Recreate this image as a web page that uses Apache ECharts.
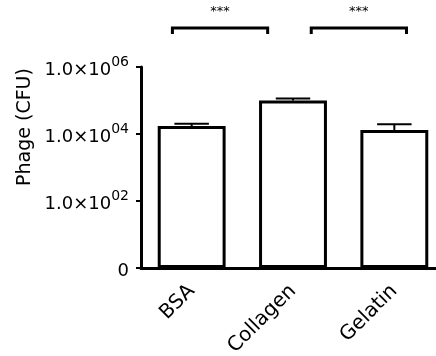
<!DOCTYPE html>
<html>
<head>
<meta charset="utf-8">
<script src="https://cdn.jsdelivr.net/npm/echarts@6/dist/echarts.min.js"></script>
<style>
  html, body { margin: 0; padding: 0; background: #fff; overflow: hidden; }
  #wrap { width: 436px; height: 356px; overflow: hidden; position: relative; }
  #chart { position: absolute; left: 0; top: 0; width: 445px; height: 356px; }
</style>
</head>
<body>
<div id="wrap"><div id="chart"></div></div>
<script>
const categories = [ 'BSA', 'Collagen', 'Gelatin' ];
const phageMean = [ 17300, 100000, 13200 ];
const phageUpper = [ 20300, 115000, 19500 ];
const yTicks = [ 1, 100, 10000, 1000000 ];
const comparisons = [ [ 0, 1 ], [ 1, 2 ] ];
const comparisonLabels = [ '***', '***' ];

const FONT = 'DejaVu Sans';

// bracket placement, in band widths relative to the midpoint of the compared bars
const bracketShift = [ -0.22, 0.15 ];
const bracketHalf = 0.47;

// the plot runs past the right edge of the 436px window, as in the source figure
const chart = echarts.init( document.getElementById( 'chart' ), null, { renderer: 'canvas' } );

function yLabel( v ) {
	if ( v <= 1 ) return '{b|0}';
	const e = Math.round( Math.log10( v ) );
	return '{b|1.0×10}{s|' + String( e ).padStart( 2, '0' ) + '}';
}

chart.setOption( {
	animation: false,
	backgroundColor: '#fff',
	grid: { left: 141, top: 67, right: 0, bottom: 88, containLabel: false, outerBoundsMode: 'none' },
	xAxis: {
		type: 'category',
		data: categories,
		axisLine: { lineStyle: { color: '#000', width: 3 } },
		axisTick: { alignWithLabel: true, length: 6, lineStyle: { color: '#000', width: 3 } },
		axisLabel: {
			rotate: 45,
			margin: 20,
			color: '#000',
			fontFamily: FONT,
			fontSize: 20
		}
	},
	yAxis: {
		type: 'log',
		logBase: 100,
		min: yTicks[ 0 ],
		max: yTicks[ yTicks.length - 1 ],
		interval: 1,
		splitLine: { show: false },
		axisLine: { show: true, lineStyle: { color: '#000', width: 3 } },
		axisTick: { show: true, length: 5, lineStyle: { color: '#000', width: 2 } },
		axisLabel: {
			margin: 12,
			color: '#000',
			formatter: yLabel,
			rich: {
				b: { fontFamily: FONT, fontSize: 18, color: '#000', lineHeight: 24, verticalAlign: 'bottom' },
				s: { fontFamily: FONT, fontSize: 14, color: '#000', lineHeight: 24, verticalAlign: 'top' }
			}
		}
	},
	graphic: [ {
		type: 'text',
		x: 25,
		y: 127,
		rotation: Math.PI / 2,
		style: {
			text: 'Phage (CFU)',
			fontFamily: FONT,
			fontSize: 19,
			fill: '#000',
			align: 'center',
			verticalAlign: 'middle'
		}
	} ],
	series: [
		{
			type: 'bar',
			data: phageMean,
			barWidth: '67%',
			itemStyle: { color: '#fff', borderColor: '#000', borderWidth: 3 },
			z: 2
		},
		{
			type: 'custom',
			z: 3,
			data: categories.map( ( c, i ) => [ i, phageMean[ i ], phageUpper[ i ] ] ),
			renderItem: ( params, api ) => {
				const base = api.coord( [ api.value( 0 ), api.value( 1 ) ] );
				const top = api.coord( [ api.value( 0 ), api.value( 2 ) ] );
				const half = api.size( [ 1, 0 ] )[ 0 ] * 0.17;
				const st = { stroke: '#000', lineWidth: 2 };
				return {
					type: 'group',
					children: [
						{ type: 'line', shape: { x1: base[ 0 ], y1: base[ 1 ], x2: top[ 0 ], y2: top[ 1 ] }, style: st },
						{ type: 'line', shape: { x1: top[ 0 ] - half, y1: top[ 1 ], x2: top[ 0 ] + half, y2: top[ 1 ] }, style: st }
					]
				};
			}
		},
		{
			type: 'custom',
			z: 3,
			clip: false,
			data: comparisons.map( ( pair, i ) => [ pair[ 0 ], yTicks[ yTicks.length - 1 ], pair[ 1 ], i ] ),
			renderItem: ( params, api ) => {
				const idx = api.value( 3 );
				const band = api.size( [ 1, 0 ] )[ 0 ];
				const a = api.coord( [ api.value( 0 ), api.value( 1 ) ] );
				const b = api.coord( [ api.value( 2 ), api.value( 1 ) ] );
				const mid = ( a[ 0 ] + b[ 0 ] ) / 2 + bracketShift[ idx ] * band;
				const x1 = mid - bracketHalf * band;
				const x2 = mid + bracketHalf * band;
				const y = a[ 1 ] - 39;
				return {
					type: 'group',
					children: [
						{
							type: 'polyline',
							shape: { points: [ [ x1, y + 6 ], [ x1, y ], [ x2, y ], [ x2, y + 6 ] ] },
							style: { stroke: '#000', lineWidth: 3, fill: null }
						},
						{
							type: 'text',
							x: mid,
							y: y - 16,
							style: {
								text: comparisonLabels[ idx ],
								fontFamily: FONT,
								fontSize: 13,
								fill: '#000',
								align: 'center',
								verticalAlign: 'middle'
							}
						}
					]
				};
			}
		}
	]
} );
</script>
</body>
</html>
